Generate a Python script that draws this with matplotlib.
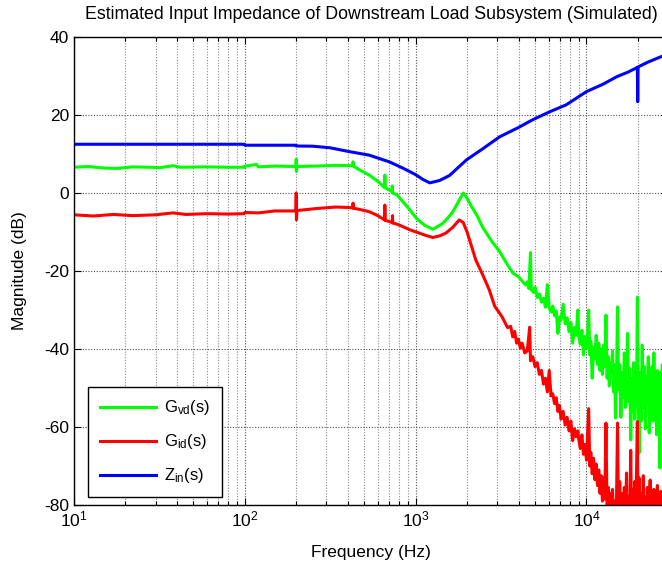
import matplotlib
matplotlib.use("Agg")
import matplotlib.pyplot as plt
from matplotlib.ticker import LogLocator, FixedLocator, NullFormatter

plt.rcParams['font.family'] = ['Liberation Sans', 'DejaVu Sans']
plt.rcParams['mathtext.fontset'] = 'custom'
plt.rcParams['mathtext.rm'] = 'Liberation Sans'
plt.rcParams['mathtext.it'] = 'Liberation Sans'
plt.rcParams['mathtext.bf'] = 'Liberation Sans'
plt.rcParams['axes.unicode_minus'] = False

title = "Estimated Input Impedance of Downstream Load Subsystem (Simulated)"
xlabel = "Frequency (Hz)"
ylabel = "Magnitude (dB)"
labels = [r"G$_{\mathrm{vd}}$(s)", r"G$_{\mathrm{id}}$(s)", r"Z$_{\mathrm{in}}$(s)"]
yticks = [40, 20, 0, -20, -40, -60, -80]

# Z_in(s)
f_zin = [10, 20, 40, 70, 99, 100, 199, 200, 250, 315, 410, 535, 700, 840, 1000,
         1100, 1210, 1380, 1580, 1780, 1985, 2500, 3100, 4000, 4800, 6000, 7600,
         10000, 12500, 15000, 17500, 19850, 19950, 20050, 20200, 23000, 27500, 30000]
zin = [12.5, 12.5, 12.5, 12.5, 12.5, 12.25, 12.25, 12.05, 12.0, 11.6, 10.6, 9.7, 8.0,
       6.4, 4.7, 3.5, 2.6, 3.2, 4.5, 6.6, 8.5, 11.5, 14.4, 16.8, 18.7, 20.7, 22.6,
       26.0, 27.9, 29.8, 31.0, 32.2, 23.4, 32.3, 32.4, 33.6, 35.0, 35.6]

# shared high-frequency sample grid (9 kHz .. 30 kHz)
f_hf = [9000, 9200, 9400, 9600, 9800, 10000, 10150, 10300, 10450, 10600, 10800, 11000,
        11200, 11400, 11600, 11800, 12000, 12200, 12400, 12600, 12800, 13000, 13200,
        13400, 13600, 13800, 14000, 14200, 14400, 14600, 14800, 15000, 15200, 15400,
        15650, 15900, 16150, 16400, 16650, 16900, 17150, 17400, 17650, 17900, 18150,
        18400, 18650, 18900, 19150, 19400, 19650, 19850, 20050, 20300, 20600, 20900,
        21200, 21500, 21800, 22100, 22400, 22700, 23000, 23300, 23600, 23900, 24200,
        24500, 24800, 25100, 25400, 25700, 26000, 26300, 26600, 26900, 27200, 27500,
        27800, 28100, 28400, 28700, 29000, 29300, 29600, 30000]

# G_vd(s)
f_gvd_lf = [10, 12, 15, 18, 22, 28, 32, 38, 42, 60, 80, 99, 100, 117, 120, 150, 199, 200,
            200.5, 202, 260, 340, 429, 430, 432, 470, 535, 600, 658, 660, 663, 700, 728,
            730, 733, 780, 840, 920, 1010, 1130, 1260, 1320, 1440, 1550, 1650, 1780, 1900,
            1980, 2100, 2300, 2460, 2800, 3100, 3400, 3700, 4000,
            4400, 4500, 4600, 4700, 4750, 4900, 5000, 5150, 5300, 5450, 5600, 5750, 5900,
            6050, 6200, 6350, 6500, 6650, 6800, 6950, 7100, 7300, 7500, 7700, 7900, 8100,
            8300, 8500, 8700, 8900]
gvd_lf = [6.6, 6.8, 6.4, 6.3, 6.7, 6.6, 6.5, 7.0, 6.6, 6.7, 6.6, 6.6, 6.9, 7.3, 6.7, 6.9,
          6.8, 8.7, 5.5, 6.8, 6.9, 7.1, 7.0, 8.0, 6.9, 5.9, 4.6, 3.0, 1.4, 4.6, 1.3, 0.8,
          0.3, 1.8, 0.0, -0.5, -2.2, -4.2, -6.5, -8.3, -9.3, -8.8, -7.8, -6.3, -4.8, -2.2,
          0.0, -1.0, -3.1, -6.0, -8.7, -12.5, -15.0, -18.0, -20.5, -21.5,
          -23.6, -22.8, -24.5, -15.3, -24.8, -25.5, -24.2, -26.8, -25.9, -28.0, -27.0,
          -29.3, -23.5, -29.5, -30.5, -29.0, -31.5, -30.2, -36.0, -31.8, -32.5, -28.5,
          -33.5, -32.0, -35.5, -33.2, -38.5, -34.5, -36.5, -30.0]
gvd_hf = [-36.5, -38.8, -35.2, -41.5, -36.8, -39.8, -36.0, -30.0, -41.5, -38.0, -47.5,
          -39.5, -42.5, -36.5, -44.0, -38.5, -45.5, -40.0, -46.5, -39.0, -44.5, -31.3,
          -47.5, -42.0, -49.5, -43.5, -46.0, -40.5, -51.0, -44.0, -57.7, -45.5, -29.2,
          -50.5, -44.0, -57.5, -46.0, -52.5, -41.0, -55.0, -47.5, -36.0, -53.5, -45.0,
          -63.3, -47.5, -56.0, -43.5, -58.0, -46.5, -52.0, -26.7, -54.0, -66.7, -46.0,
          -58.5, -39.0, -55.0, -44.5, -60.5, -47.0, -53.5, -42.0, -61.5, -48.0, -55.5,
          -44.5, -58.5, -41.0, -56.5, -47.5, -62.0, -45.5, -54.0, -49.0, -70.5, -46.0,
          -57.0, -44.0, -60.0, -48.5, -55.5, -45.0, -59.0, -47.0, -53.0]

# G_id(s)
f_gid_lf = [10, 13, 17, 22, 30, 38, 45, 60, 80, 99, 100, 120, 150, 199, 200, 200.5, 202,
            260, 340, 400, 429, 430, 432, 470, 535, 600, 658, 660, 663, 700, 730, 732, 735,
            780, 840, 920, 1050, 1150, 1260, 1380, 1500, 1650, 1800, 1900, 2000, 2100, 2250,
            2350, 2500, 2700, 2900, 3200, 3450, 3600,
            3700, 3800, 3900, 4000, 4100, 4200, 4350, 4500, 4650, 4700, 4850, 5000, 5150,
            5300, 5450, 5600, 5750, 5900, 6050, 6200, 6350, 6500, 6650, 6800, 6950, 7100,
            7300, 7500, 7700, 7900, 8100, 8300, 8500, 8700, 8900]
gid_lf = [-5.6, -5.9, -5.5, -5.8, -5.6, -5.1, -5.5, -5.3, -5.4, -5.3, -5.0, -5.1, -4.6,
          -4.6, 0.0, -6.9, -4.5, -4.0, -3.6, -3.7, -3.8, -2.6, -3.9, -4.2, -4.8, -5.8, -6.9,
          -3.1, -7.0, -7.3, -7.6, -5.8, -7.7, -8.0, -8.6, -9.4, -10.3, -10.9, -11.4, -11.0,
          -10.3, -8.8, -6.9, -7.6, -10.0, -13.0, -17.2, -19.0, -21.5, -24.9, -29.0, -31.7,
          -34.5, -34.2,
          -36.9, -35.5, -38.5, -37.5, -39.8, -38.5, -41.0, -40.5, -34.4, -43.0, -42.0,
          -44.5, -43.5, -46.5, -45.5, -49.0, -47.5, -51.0, -45.5, -52.0, -51.5, -54.0,
          -52.5, -56.0, -54.5, -58.0, -56.0, -59.5, -57.5, -61.0, -58.5, -63.5, -60.5,
          -62.5, -61.0]
gid_hf = [-63.0, -65.5, -62.0, -67.0, -64.5, -68.5, -62.0, -55.3, -70.0, -66.5, -72.0,
          -68.0, -73.5, -69.5, -75.0, -71.0, -77.0, -72.5, -79.0, -73.0, -78.5, -59.0,
          -82.0, -75.5, -84.0, -77.0, -86.0, -76.0, -85.0, -79.0, -88.0, -77.5, -59.0,
          -86.0, -74.0, -88.0, -77.0, -90.0, -75.5, -86.0, -71.8, -89.0, -78.0, -86.5,
          -66.0, -88.0, -76.0, -91.0, -74.0, -85.0, -70.0, -58.6, -87.0, -73.0, -90.0,
          -77.0, -88.0, -72.5, -92.0, -78.0, -86.0, -75.5, -90.0, -79.0, -73.6, -89.0,
          -77.5, -93.0, -76.0, -87.0, -79.5, -91.0, -75.0, -88.0, -78.0, -92.0, -76.5,
          -86.0, -80.0, -90.0, -77.0, -88.5, -79.0, -91.0, -78.5, -87.0]

fig = plt.figure(figsize=(6.62, 5.63), dpi=100)
ax = fig.add_axes([74 / 662, 58 / 563, 594 / 662, 468 / 563])

ax.semilogx(f_gvd_lf + f_hf, gvd_lf + gvd_hf, color=(0, 1, 0), lw=2.2, label=labels[0])
ax.semilogx(f_gid_lf + f_hf, gid_lf + gid_hf, color=(1, 0, 0), lw=2.2, label=labels[1])
ax.semilogx(f_zin, zin, color=(0, 0, 1), lw=2.2, label=labels[2])

ax.set_xlim(10, 30000)
ax.set_ylim(-80, 40)
ax.yaxis.set_major_locator(FixedLocator(yticks))
ax.xaxis.set_major_locator(LogLocator(base=10, numticks=10))
ax.xaxis.set_minor_locator(LogLocator(base=10, subs=range(2, 10), numticks=20))
ax.xaxis.set_minor_formatter(NullFormatter())

ax.grid(True, which='major', axis='both', color='#505050', ls=(0, (1, 1.5)), lw=0.8)
ax.grid(True, which='minor', axis='x', color='#8a8a8a', ls=(0, (1, 1.5)), lw=0.8)
ax.set_axisbelow(True)

ax.tick_params(which='both', direction='in', top=True, right=True, labelsize=12.5,
               color='black')
ax.tick_params(which='major', length=5, width=0.8)
ax.tick_params(which='minor', length=3, width=0.8)
for s in ax.spines.values():
    s.set_linewidth(1.0)

ax.set_title(title, fontsize=12.8, pad=13)
ax.set_xlabel(xlabel, fontsize=12.5, labelpad=11)
ax.set_ylabel(ylabel, fontsize=12.5, labelpad=12)

leg = ax.legend(loc='lower left', bbox_to_anchor=(0.0236, 0.017), fontsize=12,
                handlelength=3.4, handletextpad=0.45, labelspacing=0.9,
                borderpad=0.7, borderaxespad=0, fancybox=False, framealpha=1,
                edgecolor='black')
leg.get_frame().set_linewidth(1.0)

fig.savefig("out.png", dpi=100)
